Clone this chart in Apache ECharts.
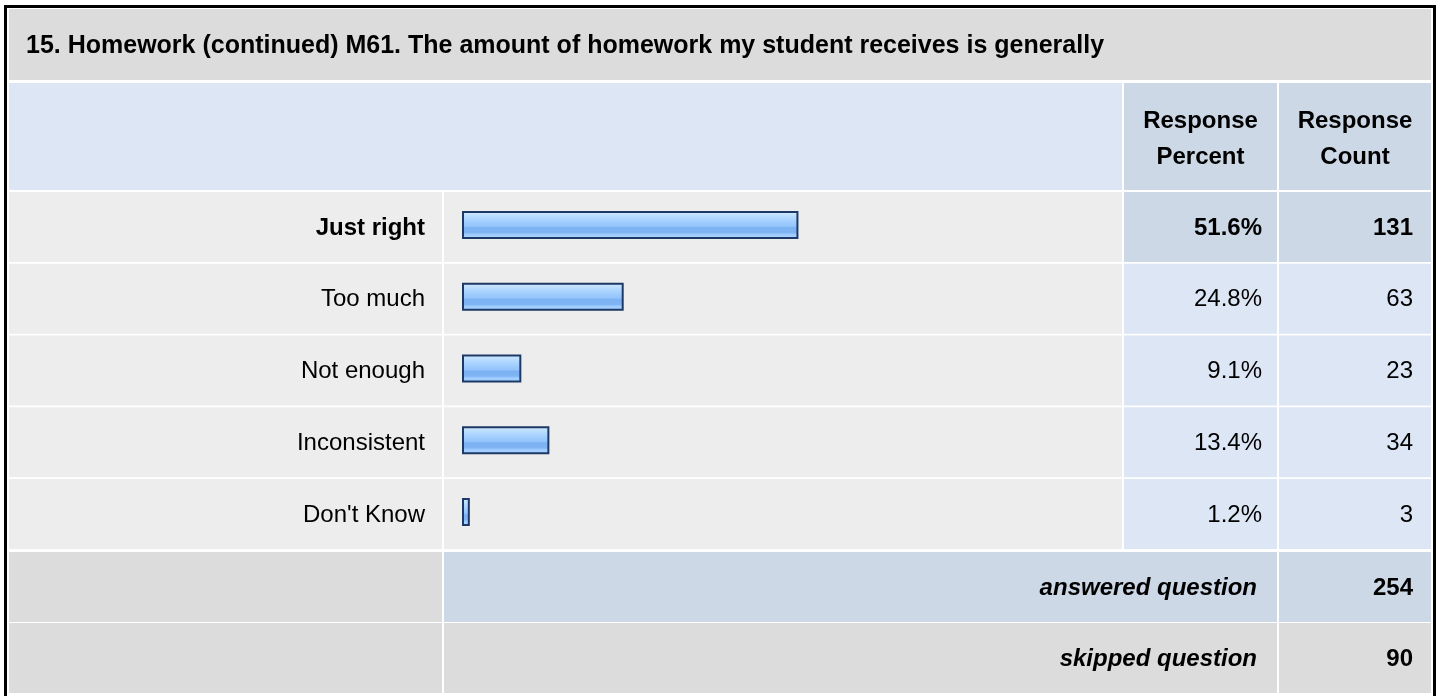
<!DOCTYPE html>
<html>
<head>
<meta charset="utf-8">
<script src="https://cdn.jsdelivr.net/npm/echarts@6/dist/echarts.min.js"></script>
<style>
  html, body { margin: 0; padding: 0; background: #fff; }
  #chart { width: 1440px; height: 696px; }
</style>
</head>
<body>
<div id="chart"></div>
<script>
const titleText = '15. Homework (continued) M61. The amount of homework my student receives is generally'
const headerLabels = ['Response\nPercent', 'Response\nCount']
const categories = ['Just right', 'Too much', 'Not enough', 'Inconsistent', "Don't Know"]
const percents = [51.6, 24.8, 9.1, 13.4, 1.2]
const counts = [131, 63, 23, 34, 3]
const summaryLabels = ['answered question', 'skipped question']
const summaryCounts = [254, 90]

const FONT = '"Liberation Sans", Arial, sans-serif'
const TEXT = '#000'

// table geometry
const COL = {
  label: [9, 442],
  bar: [444, 1122],
  pct: [1124, 1277],
  cnt: [1279, 1431]
}
const ROW_TOP = 192
const ROW_PITCH = 71.75
const ROW_H = 70
const SUM_TOP = [552, 623]
const SUM_H = 70

const chart = echarts.init(document.getElementById('chart'))

function rect(x0, x1, y, h, fill) {
  return { type: 'rect', z: 0, shape: { x: x0, y, width: x1 - x0, height: h }, style: { fill } }
}

function text(str, x, y, align, style = {}) {
  return {
    type: 'text',
    z: 10,
    x,
    y,
    style: {
      text: str,
      align,
      verticalAlign: 'middle',
      fontStyle: style.italic ? 'italic' : 'normal',
      fontWeight: style.weight || 'normal',
      fontSize: style.size || 24,
      fontFamily: FONT,
      lineHeight: style.lineHeight,
      fill: TEXT
    }
  }
}

function buildGraphic() {
  const els = []
  // title + header
  els.push(rect(9, 1431, 9, 71, '#dcdcdc'))
  els.push(rect(COL.label[0], COL.bar[1], 83, 107, '#dce6f4'))
  els.push(rect(COL.pct[0], COL.pct[1], 83, 107, '#ccd8e6'))
  els.push(rect(COL.cnt[0], COL.cnt[1], 83, 107, '#ccd8e6'))
  // data rows
  categories.forEach((c, i) => {
    const y = ROW_TOP + i * ROW_PITCH
    const right = i === 0 ? '#ccd8e6' : '#dce6f4'
    els.push(rect(COL.label[0], COL.label[1], y, ROW_H, '#ededed'))
    els.push(rect(COL.bar[0], COL.bar[1], y, ROW_H, '#ededed'))
    els.push(rect(COL.pct[0], COL.pct[1], y, ROW_H, right))
    els.push(rect(COL.cnt[0], COL.cnt[1], y, ROW_H, right))
  })
  // summary rows
  summaryLabels.forEach((s, i) => {
    const y = SUM_TOP[i]
    const mid = i === 0 ? '#ccd8e6' : '#dcdcdc'
    els.push(rect(COL.label[0], COL.label[1], y, SUM_H, '#dcdcdc'))
    els.push(rect(COL.bar[0], COL.pct[1], y, SUM_H, mid))
    els.push(rect(COL.cnt[0], COL.cnt[1], y, SUM_H, mid))
    els.push(text(s, COL.pct[1] - 20, y + SUM_H / 2 + 1, 'right', { weight: 'bold', italic: true }))
    els.push(text(String(summaryCounts[i]), COL.cnt[1] - 18, y + SUM_H / 2 + 1, 'right', { weight: 'bold' }))
  })
  // outer frame
  els.push({
    type: 'rect',
    z: 20,
    shape: { x: 5.5, y: 6.5, width: 1429, height: 720 },
    style: { fill: 'none', stroke: '#000', lineWidth: 3 }
  })
  els.push(text(titleText, 26, 46, 'left', { weight: 'bold', size: 25 }))
  els.push(text(headerLabels[0], (COL.pct[0] + COL.pct[1]) / 2, 139, 'center', { weight: 'bold', lineHeight: 36 }))
  els.push(text(headerLabels[1], (COL.cnt[0] + COL.cnt[1]) / 2, 139, 'center', { weight: 'bold', lineHeight: 36 }))
  return els
}

const gridHeight = ROW_PITCH * categories.length
const barGradient = new echarts.graphic.LinearGradient(0, 0, 0, 1, [
  { offset: 0, color: '#d6ebff' },
  { offset: 0.2, color: '#b8dcff' },
  { offset: 0.35, color: '#a6d0ff' },
  { offset: 0.55, color: '#93c4fb' },
  { offset: 0.6, color: '#7cb1f2' },
  { offset: 0.78, color: '#80b5f4' },
  { offset: 0.84, color: '#9fccff' },
  { offset: 1, color: '#abd4ff' }
])

const labelBase = { fontSize: 24, fontFamily: FONT, color: TEXT }

// a text column: category axis whose labels end at the grid's left edge
function columnAxis(gridIndex, labels, margin = 0) {
  return {
    type: 'category',
    gridIndex,
    data: labels,
    inverse: true,
    axisLine: { show: false },
    axisTick: { show: false },
    splitLine: { show: false },
    axisLabel: {
      ...labelBase,
      margin,
      formatter: (v, i) => (i === 0 ? `{b|${v}}` : v),
      rich: { b: { ...labelBase, fontWeight: 'bold' } }
    }
  }
}

chart.setOption({
  animation: false,
  graphic: { elements: buildGraphic() },
  grid: [
    // bar grid sits a few px higher than the text rows, as in the original
    { left: 462, width: 652, top: ROW_TOP - 3, height: gridHeight },
    { left: 462, width: 652, top: ROW_TOP, height: gridHeight },
    { left: COL.pct[1] - 15, width: 1, top: ROW_TOP, height: gridHeight },
    { left: COL.cnt[1] - 18, width: 1, top: ROW_TOP, height: gridHeight }
  ],
  xAxis: [
    { type: 'value', gridIndex: 0, min: 0, max: 100, show: false },
    { type: 'value', gridIndex: 1, show: false },
    { type: 'value', gridIndex: 2, show: false },
    { type: 'value', gridIndex: 3, show: false }
  ],
  yAxis: [
    { type: 'category', gridIndex: 0, data: categories, inverse: true, show: false },
    columnAxis(1, categories, 37),
    columnAxis(2, percents.map((v) => `${v.toFixed(1)}%`)),
    columnAxis(3, counts.map(String))
  ],
  series: [
    {
      type: 'bar',
      xAxisIndex: 0,
      yAxisIndex: 0,
      data: percents,
      barWidth: 28,
      z: 5,
      itemStyle: {
        color: barGradient,
        borderColor: '#1d3a66',
        borderWidth: 2
      }
    }
  ]
})
</script>
</body>
</html>
